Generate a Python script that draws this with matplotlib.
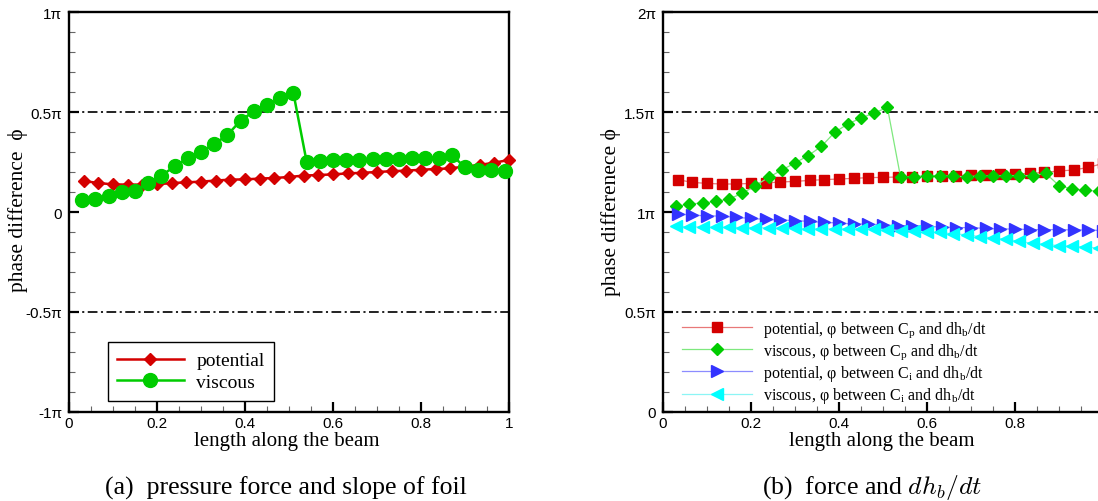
import matplotlib
matplotlib.use("Agg")
import matplotlib.pyplot as plt
from matplotlib.ticker import FixedLocator, FixedFormatter, MultipleLocator
from matplotlib.font_manager import FontProperties

# ---------------------------------------------------------------- data
# stations along the beam (potential runs: 30 stations, viscous runs: 33 stations)
x_potential = [0.033, 0.067, 0.100, 0.133, 0.167, 0.200, 0.233, 0.267, 0.300, 0.333,
               0.367, 0.400, 0.433, 0.467, 0.500, 0.533, 0.567, 0.600, 0.633, 0.667,
               0.700, 0.733, 0.767, 0.800, 0.833, 0.867, 0.900, 0.933, 0.967, 1.000]
x_viscous = [0.03, 0.06, 0.09, 0.12, 0.15, 0.18, 0.21, 0.24, 0.27, 0.30, 0.33,
             0.36, 0.39, 0.42, 0.45, 0.48, 0.51, 0.54, 0.57, 0.60, 0.63, 0.66,
             0.69, 0.72, 0.75, 0.78, 0.81, 0.84, 0.87, 0.90, 0.93, 0.96, 0.99]

# (a) phase difference between pressure force and foil slope, in units of pi
phase_a_potential = [0.155, 0.145, 0.138, 0.137, 0.137, 0.138, 0.145, 0.148, 0.152, 0.157,
                     0.162, 0.163, 0.167, 0.170, 0.175, 0.182, 0.185, 0.188, 0.193, 0.196,
                     0.200, 0.204, 0.207, 0.211, 0.215, 0.218, 0.228, 0.235, 0.247, 0.260]
phase_a_viscous = [0.062, 0.065, 0.082, 0.098, 0.107, 0.143, 0.182, 0.228, 0.268, 0.302,
                   0.340, 0.385, 0.457, 0.503, 0.535, 0.568, 0.595, 0.252, 0.255, 0.260,
                   0.262, 0.262, 0.263, 0.265, 0.267, 0.268, 0.270, 0.272, 0.285, 0.223,
                   0.212, 0.210, 0.207]

# (b) phase difference between force and dh_b/dt, in units of pi
phase_b_pot_cp = [1.162, 1.148, 1.143, 1.140, 1.140, 1.143, 1.145, 1.150, 1.153, 1.158,
                  1.162, 1.165, 1.168, 1.172, 1.173, 1.175, 1.177, 1.178, 1.180, 1.182,
                  1.184, 1.186, 1.188, 1.190, 1.193, 1.198, 1.205, 1.210, 1.223, 1.243]
phase_b_visc_cp = [1.028, 1.040, 1.045, 1.053, 1.065, 1.093, 1.132, 1.173, 1.210, 1.245,
                   1.282, 1.328, 1.398, 1.440, 1.470, 1.495, 1.523, 1.173, 1.177, 1.182,
                   1.182, 1.178, 1.177, 1.180, 1.180, 1.182, 1.182, 1.182, 1.193, 1.132,
                   1.115, 1.110, 1.103]
phase_b_pot_ci = [0.990, 0.985, 0.980, 0.980, 0.973, 0.968, 0.963, 0.960, 0.957, 0.953,
                  0.948, 0.945, 0.940, 0.940, 0.935, 0.932, 0.932, 0.928, 0.925, 0.922,
                  0.922, 0.918, 0.915, 0.915, 0.912, 0.912, 0.912, 0.910, 0.910, 0.907]
phase_b_visc_ci = [0.928, 0.926, 0.924, 0.923, 0.923, 0.922, 0.922, 0.920, 0.918, 0.918,
                   0.916, 0.915, 0.915, 0.915, 0.915, 0.915, 0.912, 0.907, 0.905, 0.900,
                   0.898, 0.890, 0.887, 0.877, 0.870, 0.863, 0.853, 0.843, 0.838, 0.832,
                   0.828, 0.825, 0.820]

x_ticks = [0, 0.2, 0.4, 0.6, 0.8, 1.0]
x_tick_labels_a = ["0", "0.2", "0.4", "0.6", "0.8", "1"]
x_tick_labels_b = ["0", "0.2", "0.4", "0.6", "0.8", ""]
y_ticks_a = [-1, -0.5, 0, 0.5, 1]
y_tick_labels_a = ["-1\u03c0", "-0.5\u03c0", "0", "0.5\u03c0", "1\u03c0"]
y_ticks_b = [0, 0.5, 1, 1.5, 2]
y_tick_labels_b = ["0", "0.5\u03c0", "1\u03c0", "1.5\u03c0", "2\u03c0"]

# ---------------------------------------------------------------- style
plt.rcParams["lines.scale_dashes"] = False
plt.rcParams["mathtext.fontset"] = "custom"
plt.rcParams["mathtext.rm"] = "Liberation Serif"
plt.rcParams["mathtext.it"] = "Liberation Serif:italic"

SERIF = ["Liberation Serif", "DejaVu Serif"]
SANS = ["Liberation Sans", "DejaVu Sans"]
DASHDOT = (0, (7, 2.5, 1.5, 2.5))

RED, GREEN, BLUE, CYAN = "#d40000", "#00cc00", "#3333ff", "#00ffff"

W, H = 1098, 502
fig = plt.figure(figsize=(W / 100, H / 100), dpi=100)


def axes_at(left, top, width, height):
    return fig.add_axes([left / W, 1 - (top + height) / H, width / W, height / H])


def style_axes(ax, ylim, yticks, ylabels, xlabels):
    ax.set_xlim(0, 1)
    ax.set_ylim(*ylim)
    for sp in ax.spines.values():
        sp.set_linewidth(1.7)
    ax.xaxis.set_major_locator(FixedLocator(x_ticks))
    ax.xaxis.set_major_formatter(FixedFormatter(xlabels))
    ax.xaxis.set_minor_locator(MultipleLocator(0.05))
    ax.yaxis.set_major_locator(FixedLocator(yticks))
    ax.yaxis.set_major_formatter(FixedFormatter(ylabels))
    ax.yaxis.set_minor_locator(MultipleLocator(0.1))
    ax.tick_params(which="both", direction="in", top=False, right=False)
    ax.tick_params(which="major", length=7, width=1.6, color="black",
                   labelsize=11, pad=5)
    ax.tick_params(axis="x", which="major", pad=3)
    ax.tick_params(which="minor", length=4, width=0.8, color="#666666")
    for lab in ax.get_xticklabels() + ax.get_yticklabels():
        lab.set_family(SANS)


# ---------------------------------------------------------------- panel (a)
ax1 = axes_at(69, 13, 440, 400)
style_axes(ax1, (-1, 1), y_ticks_a, y_tick_labels_a, x_tick_labels_a)
for yref in (-0.5, 0.5):
    ax1.axhline(yref, color="#111111", lw=1.3, ls=DASHDOT, zorder=1)
ax1.plot(x_potential, phase_a_potential, color=RED, lw=1.8, marker="D", ms=6.4,
         mfc=RED, mec=RED, label="potential", zorder=3, clip_on=False)
ax1.plot(x_viscous, phase_a_viscous, color=GREEN, lw=1.8, marker="o", ms=10,
         mfc=GREEN, mec=GREEN, label="viscous", zorder=4, clip_on=False)
leg1 = ax1.legend(loc="upper left", bbox_to_anchor=(0.088, 0.175), borderaxespad=0,
                  prop=FontProperties(family="Liberation Serif", size=14),
                  numpoints=1, handlelength=3.4, handletextpad=0.65,
                  labelspacing=0.2, borderpad=0.5, fancybox=False,
                  edgecolor="black", framealpha=1)
leg1.get_frame().set_linewidth(1.0)

# ---------------------------------------------------------------- panel (b)
ax2 = axes_at(663, 13, 440, 400)
style_axes(ax2, (0, 2), y_ticks_b, y_tick_labels_b, x_tick_labels_b)
for yref in (0.5, 1.5):
    ax2.axhline(yref, color="#111111", lw=1.3, ls=DASHDOT, zorder=1)
ax2.plot(x_potential, phase_b_pot_cp, color="#e87878", lw=0.9, marker="s", ms=7.2,
         mfc=RED, mec=RED,
         label="potential, \u03c6 between C$_\\mathrm{p}$ and dh$_\\mathrm{b}$/dt", zorder=3)
ax2.plot(x_viscous, phase_b_visc_cp, color="#7ee87e", lw=0.9, marker="D", ms=6.2,
         mfc=GREEN, mec=GREEN,
         label="viscous, \u03c6 between C$_\\mathrm{p}$ and dh$_\\mathrm{b}$/dt", zorder=4)
ax2.plot(x_potential, phase_b_pot_ci, color="#8c8cff", lw=0.9, marker=">", ms=8.2,
         mfc=BLUE, mec=BLUE,
         label="potential, \u03c6 between C$_\\mathrm{i}$ and dh$_\\mathrm{b}$/dt", zorder=5)
ax2.plot(x_viscous, phase_b_visc_ci, color="#8cf5f5", lw=0.9, marker="<", ms=8.2,
         mfc=CYAN, mec=CYAN,
         label="viscous, \u03c6 between C$_\\mathrm{i}$ and dh$_\\mathrm{b}$/dt", zorder=6)
ax2.legend(loc="upper left", bbox_to_anchor=(0.043, 0.232), borderaxespad=0,
           prop=FontProperties(family="Liberation Serif", size=11.5),
           numpoints=1, handlelength=4.4, handletextpad=0.7,
           labelspacing=0.14, borderpad=0, frameon=False)

# ---------------------------------------------------------------- labels
fig.text(18 / W, 1 - 210 / H, "phase difference  \u03d5", rotation=90,
         ha="center", va="center", family=SERIF, size=15.5)
fig.text(611 / W, 1 - 212 / H, "phase differenece \u03d5", rotation=90,
         ha="center", va="center", family=SERIF, size=15.5)
fig.text(287 / W, 1 - 442 / H, "length along the beam",
         ha="center", va="center", family=SERIF, size=15)
fig.text(882 / W, 1 - 442 / H, "length along the beam",
         ha="center", va="center", family=SERIF, size=15)
fig.text(286 / W, 1 - 488 / H, "(a)  pressure force and slope of foil",
         ha="center", va="center", family=SERIF, size=18.5)
fig.text(872 / W, 1 - 488 / H, "(b)  force and $dh_b/dt$",
         ha="center", va="center", family=SERIF, size=18.5, math_fontfamily="cm")

fig.savefig("out.png", dpi=100)
